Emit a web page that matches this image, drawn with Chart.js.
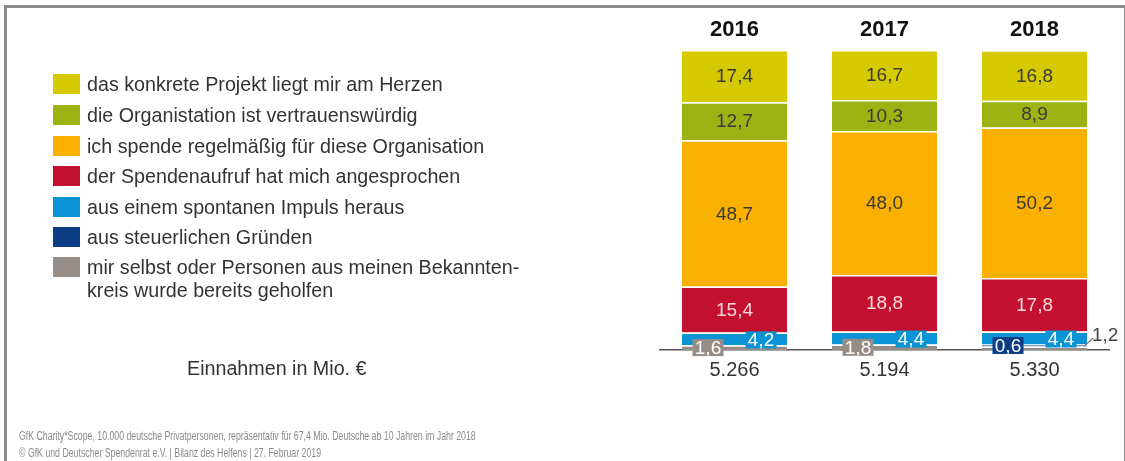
<!DOCTYPE html>
<html><head><meta charset="utf-8">
<script src="https://cdn.jsdelivr.net/npm/chart.js@4"></script>
<style>
html,body{margin:0;padding:0;background:#fff;width:1125px;height:461px;overflow:hidden;font-family:"Liberation Sans",Arial,sans-serif;}
#frame{position:absolute;left:4px;top:5px;width:1117px;height:470px;border:3px solid #8c8c8c;border-bottom:none;box-sizing:content-box;}
#c{position:absolute;left:0;top:0;}
#legend{position:absolute;left:53px;top:74px;}
.row{position:absolute;left:0;white-space:nowrap;}
.sw{position:absolute;left:0;top:0;width:27px;height:20px;}
.lt{position:absolute;left:34px;top:-1px;font-size:19.7px;line-height:23px;color:#333;}
#einn{position:absolute;left:187px;top:357px;font-size:19.7px;color:#333;white-space:nowrap;}
#foot{position:absolute;left:19px;top:428px;font-size:12.5px;line-height:17px;color:#8a8a8a;white-space:nowrap;transform:scaleX(0.7);transform-origin:0 0;}
</style></head>
<body>
<div id="frame"></div>
<canvas id="c" width="1125" height="461"></canvas>
<div id="legend"></div>
<div id="einn">Einnahmen in Mio. €</div>
<div id="foot">GfK Charity*Scope, 10.000 deutsche Privatpersonen, repräsentativ für 67,4 Mio. Deutsche ab 10 Jahren im Jahr 2018<br>© GfK und Deutscher Spendenrat e.V. | Bilanz des Helfens | 27. Februar 2019</div>
<script>
// ---- data ----
const years = ["2016", "2017", "2018"];
const totals = ["5.266", "5.194", "5.330"];
const seriesNames = [
  "das konkrete Projekt liegt mir am Herzen",
  "die Organistation ist vertrauenswürdig",
  "ich spende regelmäßig für diese Organisation",
  "der Spendenaufruf hat mich angesprochen",
  "aus einem spontanen Impuls heraus",
  "aus steuerlichen Gründen",
  "mir selbst oder Personen aus meinen Bekannten-\nkreis wurde bereits geholfen"
];
const projekt     = [17.4, 16.7, 16.8];
const vertrauen   = [12.7, 10.3, 8.9];
const regelmaessig= [48.7, 48.0, 50.2];
const aufruf      = [15.4, 18.8, 17.8];
const impuls      = [4.2, 4.4, 4.4];
const steuer      = [0, 0, 0.6];
const geholfen    = [1.6, 1.8, 1.2];

const colors = ["#d5c900", "#9db313", "#f9b000", "#c3102f", "#0a93d5", "#0b3d85", "#978d88"];
const textColors = ["#3a3a3a", "#3a3a3a", "#3a3a3a", "#fbd6da", "#ffffff", "#ffffff", "#ffffff"];
const smallMode = [null, null, null, null, "right", "left", "left"];
const seriesValues = [projekt, vertrauen, regelmaessig, aufruf, impuls, steuer, geholfen];

// legend (HTML)
const leg = document.getElementById('legend');
const pitch = [0, 31, 62, 92, 123, 153, 183];
seriesNames.forEach((n, i) => {
  const r = document.createElement('div');
  r.className = 'row';
  r.style.top = pitch[i] + 'px';
  r.innerHTML = '<div class="sw" style="background:' + colors[i] + '"></div><div class="lt">' + n.replace('\n', '<br>') + '</div>';
  leg.appendChild(r);
});

// datasets: stacking bottom-up = reverse of legend order
const datasets = [];
for (let i = seriesNames.length - 1; i >= 0; i--) {
  datasets.push({
    label: seriesNames[i],
    data: seriesValues[i],
    backgroundColor: colors[i],
    borderColor: '#ffffff',
    borderWidth: {top: 1.5, right: 0, bottom: 0, left: 0},
    borderSkipped: false,
    barPercentage: 0.7,
    categoryPercentage: 1.0,
    _idx: i
  });
}

const fmt = v => v.toFixed(1).replace('.', ',');

const valueLabels = {
  id: 'valueLabels',
  afterDatasetsDraw(chart) {
    const ctx = chart.ctx;
    ctx.save();
    const idxSteuer = datasets.findIndex(d => d._idx === 5);
    chart.data.datasets.forEach((ds, di) => {
      const meta = chart.getDatasetMeta(di);
      const si = ds._idx;
      meta.data.forEach((bar, i) => {
        const v = ds.data[i];
        if (!v) return;
        const txt = fmt(v);
        const cy = (bar.y + bar.base) / 2;
        const half = bar.width / 2;
        ctx.font = '19px "Liberation Sans", Arial, sans-serif';
        ctx.textAlign = 'center';
        ctx.textBaseline = 'middle';
        if (v >= 5) {
          ctx.fillStyle = textColors[si];
          ctx.fillText(txt, bar.x, cy + 1);
          return;
        }
        let mode = smallMode[si];
        if (si === 6 && chart.data.datasets[idxSteuer].data[i] > 0) mode = 'outside';
        if (mode === 'outside') {
          const rx = bar.x + half;
          ctx.strokeStyle = '#7a7a7a';
          ctx.lineWidth = 1.2;
          ctx.beginPath();
          ctx.moveTo(rx - 3, cy - 2);
          ctx.lineTo(rx + 6, cy - 10);
          ctx.stroke();
          ctx.fillStyle = '#444';
          ctx.textAlign = 'left';
          ctx.fillText(txt, rx + 5, cy - 12);
          return;
        }
        const bx = mode === 'right' ? bar.x + 26.5 : bar.x - 26.5;
        const by = mode === 'right' ? cy + 1 : cy;
        const w = 31, h = 17;
        ctx.fillStyle = colors[si];
        ctx.fillRect(bx - w / 2, by - h / 2, w, h);
        ctx.fillStyle = '#ffffff';
        ctx.fillText(txt, bx, by + 1);
      });
    });
    ctx.restore();
  }
};

new Chart(document.getElementById('c'), {
  type: 'bar',
  data: { labels: years, datasets },
  options: {
    responsive: false,
    devicePixelRatio: 1,
    animation: false,
    layout: { padding: { left: 659.5, right: 15.5, top: 0, bottom: 71 } },
    plugins: { legend: { display: false }, tooltip: { enabled: false } },
    scales: {
      x: {
        type: 'category',
        labels: totals,
        position: 'bottom',
        stacked: true,
        offset: true,
        grid: { display: false, drawTicks: false },
        border: { display: true, color: '#555', width: 1.5 },
        ticks: { color: '#333', font: { size: 20, family: '"Liberation Sans", Arial, sans-serif' }, padding: 8, maxRotation: 0 },
        afterFit: s => { s.height = 40; }
      },
      xTop: {
        type: 'category',
        labels: years,
        position: 'top',
        offset: true,
        grid: { display: false, drawTicks: false },
        border: { display: false },
        ticks: { color: '#111', font: { size: 22, weight: 'bold', family: '"Liberation Sans", Arial, sans-serif' }, padding: 7, maxRotation: 0 },
        afterFit: s => { s.height = 50; }
      },
      y: { stacked: true, min: 0, max: 100, display: false }
    }
  },
  plugins: [valueLabels]
});
</script>
</body></html>
